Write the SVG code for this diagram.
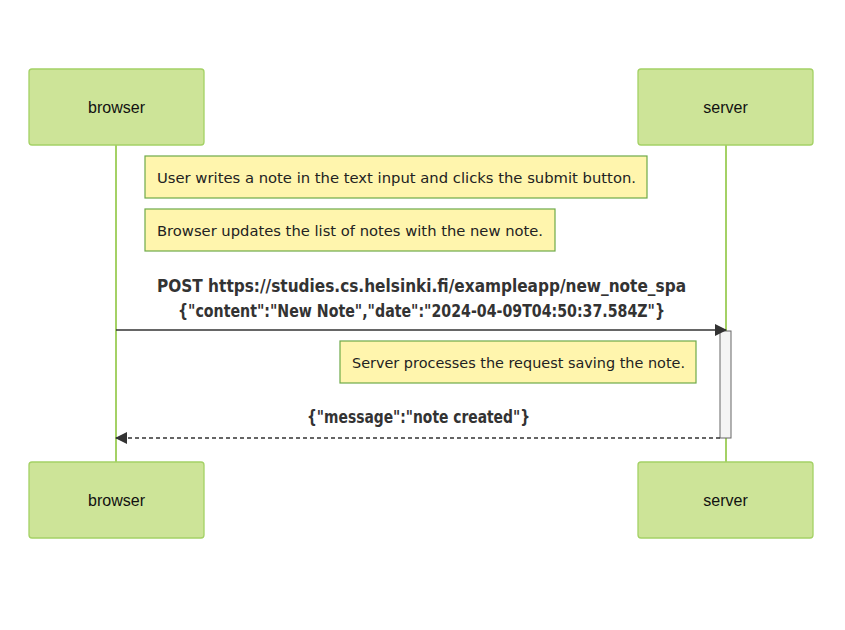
<svg xmlns="http://www.w3.org/2000/svg" width="845" height="630" viewBox="0 0 845 630">
<style>
.actor{fill:#cde498;stroke:#a4d165;stroke-width:1.3}
.atext{font-family:"Liberation Sans",Arial,sans-serif;font-size:16px;fill:#111;text-anchor:middle;dominant-baseline:central}
.life{stroke:#a4d165;stroke-width:2;fill:none}
.note{fill:#fff5ad;stroke:#6eaa49;stroke-width:1.2}
.ntext{font-family:"DejaVu Sans",Verdana,sans-serif;font-size:14.8px;fill:#222;dominant-baseline:central}
.mtext{font-family:"DejaVu Sans Condensed","DejaVu Sans",sans-serif;font-stretch:condensed;font-weight:bold;font-size:17px;fill:#333;text-anchor:middle;dominant-baseline:central}
.msg{stroke:#333;stroke-width:1.6;fill:none}
.act{fill:#f4f4f4;stroke:#666;stroke-width:1}
</style>
<defs>
<marker id="ah" markerWidth="12" markerHeight="12" refX="11" refY="6" orient="auto" markerUnits="userSpaceOnUse">
<path d="M0,0 L12,6 L0,12 z" fill="#333"/>
</marker>
</defs>
<rect width="845" height="630" fill="#fff"/>
<g id="lifelines">
<line class="life" x1="116" y1="145" x2="116" y2="462"/>
<line class="life" x1="726" y1="145" x2="726" y2="462"/>
</g>
<g id="browser-top"><rect class="actor" x="29" y="69" width="175" height="76" rx="3"/><text class="atext" x="116.5" y="107">browser</text></g>
<g id="server-top"><rect class="actor" x="638" y="69" width="175" height="76" rx="3"/><text class="atext" x="725.5" y="107">server</text></g>
<g id="browser-bottom"><rect class="actor" x="29" y="462" width="175" height="76" rx="3"/><text class="atext" x="116.5" y="500">browser</text></g>
<g id="server-bottom"><rect class="actor" x="638" y="462" width="175" height="76" rx="3"/><text class="atext" x="725.5" y="500">server</text></g>
<g id="note1"><rect class="note" x="145" y="156" width="502" height="42"/><text class="ntext" x="157" y="177" textLength="479" lengthAdjust="spacingAndGlyphs">User writes a note in the text input and clicks the submit button.</text></g>
<g id="note2"><rect class="note" x="145" y="209" width="410" height="42"/><text class="ntext" x="157" y="230" textLength="386" lengthAdjust="spacingAndGlyphs">Browser updates the list of notes with the new note.</text></g>
<g id="activation"><rect class="act" x="720" y="331" width="11" height="107"/></g>
<g id="note3"><rect class="note" x="340" y="341" width="356" height="42"/><text class="ntext" x="352" y="362" textLength="333" lengthAdjust="spacingAndGlyphs">Server processes the request saving the note.</text></g>
<g id="connectors">
<line class="msg" x1="116" y1="330" x2="726" y2="330" marker-end="url(#ah)"/>
<line class="msg" x1="720" y1="438" x2="116" y2="438" stroke-dasharray="4,3" marker-end="url(#ah)"/>
<text class="mtext" x="421.5" y="286" textLength="529" lengthAdjust="spacingAndGlyphs">POST https://studies.cs.helsinki.fi/exampleapp/new_note_spa</text>
<text class="mtext" x="421.5" y="311" textLength="487" lengthAdjust="spacingAndGlyphs">{"content":"New Note","date":"2024-04-09T04:50:37.584Z"}</text>
<text class="mtext" x="418.5" y="417" textLength="223" lengthAdjust="spacingAndGlyphs">{"message":"note created"}</text>
</g>
</svg>
